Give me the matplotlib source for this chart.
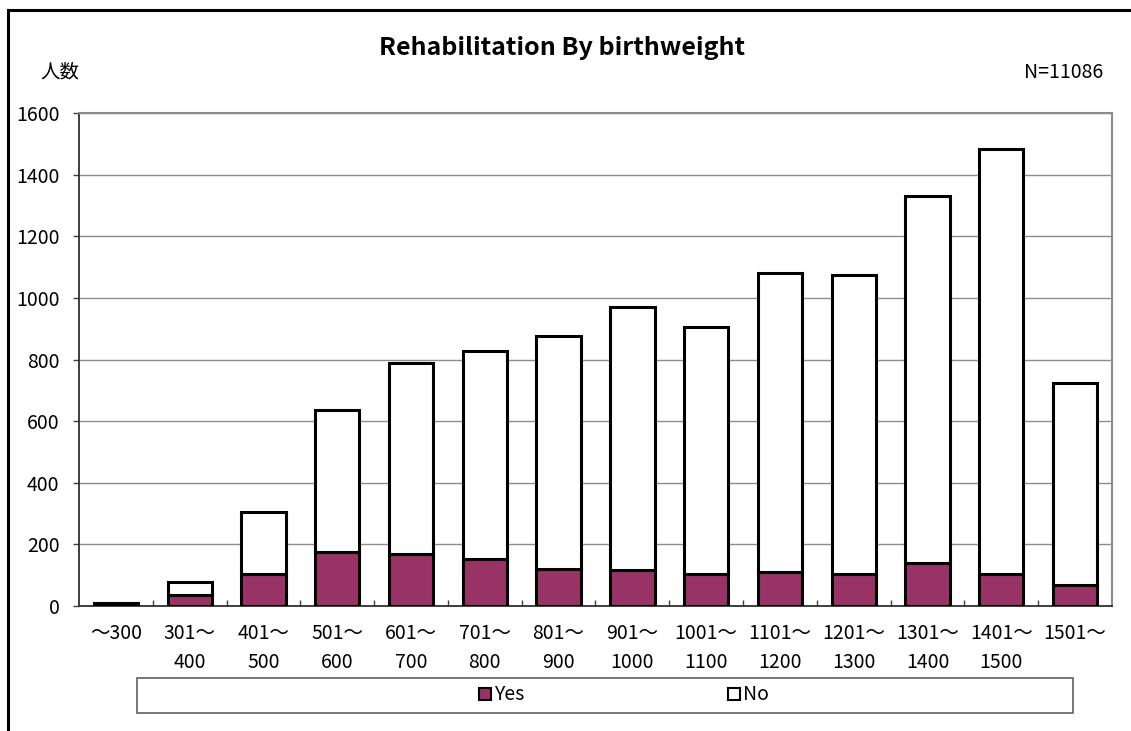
import matplotlib
matplotlib.use("Agg")
import matplotlib.pyplot as plt
from matplotlib.lines import Line2D
from matplotlib.patches import Rectangle
import numpy as np

plt.rcParams["font.family"] = ["Noto Sans CJK JP", "DejaVu Sans"]

# birthweight bands (g) and patient counts
categories = ["～300", "301～\n400", "401～\n500", "501～\n600", "601～\n700",
              "701～\n800", "801～\n900", "901～\n1000", "1001～\n1100",
              "1101～\n1200", "1201～\n1300", "1301～\n1400", "1401～\n1500",
              "1501～"]
yes_counts = [5, 37, 104, 176, 168, 153, 121, 118, 105, 110, 103, 138, 103, 68]
no_counts = [5, 41, 201, 460, 622, 673, 754, 852, 800, 970, 971, 1192, 1381, 655]
y_ticks = [0, 200, 400, 600, 800, 1000, 1200, 1400, 1600]

W, H = 1131, 731
fig = plt.figure(figsize=(W / 100, H / 100), dpi=100)
ax = fig.add_axes([79 / W, 1 - 606 / H, (1112 - 79) / W, (606 - 113) / H])

x = np.arange(len(categories))
ax.bar(x, yes_counts, width=0.6, color="#993366", edgecolor="black",
       linewidth=2.2, label="Yes", zorder=3)
ax.bar(x, no_counts, width=0.6, bottom=yes_counts, color="white",
       edgecolor="black", linewidth=2.2, label="No", zorder=3)

ax.set_xlim(-0.5, len(categories) - 0.5)
ax.set_ylim(0, 1600)
ax.set_yticks(y_ticks)
ax.set_xticks(x)
ax.set_xticklabels(categories, fontsize=14, linespacing=1.5)
ax.tick_params(axis="x", length=0, pad=12)
ax.set_xticks(np.arange(0.5, len(categories) - 0.5), minor=True)
ax.tick_params(axis="x", which="minor", direction="in", length=4,
               width=1, color="#404040")
ax.tick_params(axis="y", labelsize=14, length=4, width=1, color="#404040", pad=10)
ax.yaxis.grid(True, color="#8c8c8c", linewidth=1, zorder=0)
ax.set_axisbelow(True)

for side in ("left", "bottom"):
    ax.spines[side].set_color("#303030")
    ax.spines[side].set_linewidth(1.3)
for side in ("top", "right"):
    ax.spines[side].set_color("#8c8c8c")
    ax.spines[side].set_linewidth(1.5)

fig.text(562 / W, 1 - 48 / H, "Rehabilitation By birthweight", fontsize=18,
         fontweight="bold", ha="center", va="center")
fig.text(40 / W, 1 - 72 / H, "人数", fontsize=14, ha="left", va="center")
fig.text(1103 / W, 1 - 72 / H, "N=11086", fontsize=14, ha="right", va="center")

# legend box across the bottom
fig.add_artist(Rectangle((137 / W, 1 - 713 / H), (1073 - 137) / W, 35 / H,
                         transform=fig.transFigure, fill=False,
                         edgecolor="#606060", linewidth=1.2))
handles = [Line2D([], [], ls="none", marker="s", markersize=8,
                  markerfacecolor="#993366", markeredgecolor="black",
                  markeredgewidth=1.5),
           Line2D([], [], ls="none", marker="s", markersize=8,
                  markerfacecolor="white", markeredgecolor="black",
                  markeredgewidth=1.5)]
fig.legend(handles, ["Yes", "No"], loc="center", ncol=2,
           bbox_to_anchor=(624 / W, 1 - 695 / H), frameon=False, fontsize=14,
           handlelength=0.6, handletextpad=0.15, columnspacing=10.5)

# outer chart border
fig.add_artist(Line2D([8 / W, 8 / W], [0, 1 - 10 / H], transform=fig.transFigure,
                      color="black", linewidth=2.2))
fig.add_artist(Line2D([8 / W, 1], [1 - 10 / H, 1 - 10 / H],
                      transform=fig.transFigure, color="black", linewidth=2.2))

fig.savefig("out.png", dpi=100)
plt.close(fig)
